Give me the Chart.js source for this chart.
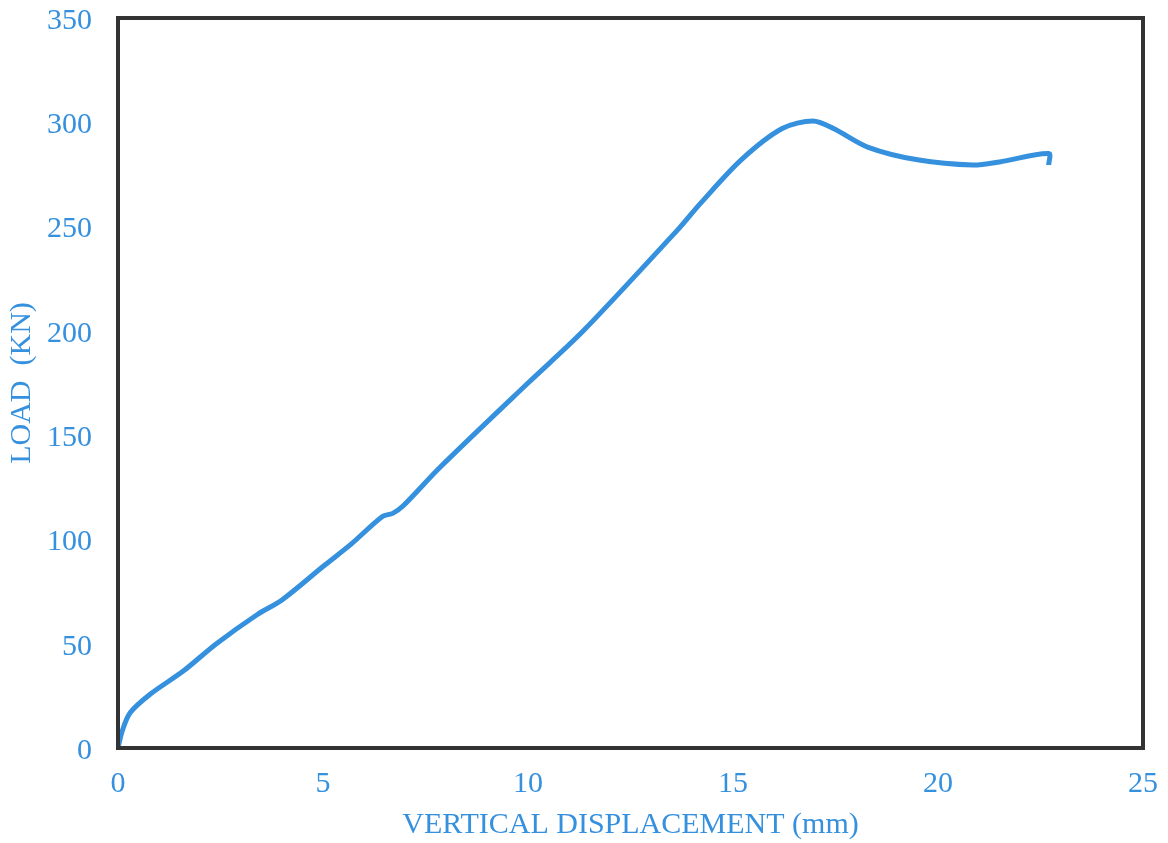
<!DOCTYPE html>
<html>
<head>
<meta charset="utf-8">
<script src="https://cdn.jsdelivr.net/npm/chart.js@4/dist/chart.umd.min.js"></script>
<style>
  html, body { margin: 0; padding: 0; background: #fff; }
  #wrap { width: 1168px; height: 843px; }
</style>
</head>
<body>
<div id="wrap"><canvas id="chart" width="1168" height="843"></canvas></div>
<script>
// values
var displacement = [0, 0.1, 0.3, 0.8, 1.6, 2.4, 3.4, 4.0, 5.0, 5.7, 6.45, 6.7, 6.95, 7.85, 10.0, 11.35, 13.7, 14.2, 15.2, 16.2, 16.95, 17.45, 18.3, 19.5, 20.85, 21.5, 22.7, 22.7];
var load = [0, 8, 17, 26, 37, 50, 64, 71, 87, 98, 111, 112.5, 116, 134.5, 175, 200, 249.5, 261, 282, 297, 300.6, 297, 288, 282, 279.5, 281, 285, 279.5];
var xTicks = [0, 5, 10, 15, 20, 25];
var yTicks = [0, 50, 100, 150, 200, 250, 300, 350];

var blue = '#3590de';
var points = displacement.map(function (x, i) { return { x: x, y: load[i] }; });

// frame around the plot area
var frame = {
    id: 'frame',
    afterDraw: function (chart) {
        var a = chart.chartArea, c = chart.ctx;
        c.save();
        c.strokeStyle = '#333';
        c.lineWidth = 4;
        c.strokeRect(a.left, a.top, a.right - a.left, a.bottom - a.top);
        c.restore();
    }
};

new Chart(document.getElementById('chart'), {
    type: 'scatter',
    data: {
        datasets: [{
            data: points,
            showLine: true,
            borderColor: blue,
            borderWidth: 5,
            pointRadius: 0,
            tension: 0.3,
            fill: false
        }]
    },
    options: {
        responsive: false,
        animation: false,
        layout: { padding: { top: 18, right: 22, left: 0, bottom: 0 } },
        plugins: { legend: { display: false }, tooltip: { enabled: false } },
        scales: {
            x: {
                min: 0, max: 25,
                afterBuildTicks: function (s) { s.ticks = xTicks.map(function (v) { return { value: v }; }); },
                afterFit: function (s) { s.height = 95; },
                grid: { display: false },
                border: { display: false },
                ticks: { color: blue, padding: 10, font: { family: 'Liberation Serif', size: 30 } },
                title: { display: true, text: 'VERTICAL DISPLACEMENT (mm)', color: blue, padding: { top: 6, bottom: 0 },
                    font: { family: 'Liberation Serif', size: 30 } }
            },
            y: {
                min: 0, max: 350,
                afterBuildTicks: function (s) { s.ticks = yTicks.map(function (v) { return { value: v }; }); },
                afterFit: function (s) { s.width = 118; s.paddingTop = 0; s.paddingBottom = 0; },
                grid: { display: false },
                border: { display: false },
                ticks: { color: blue, padding: 18, labelOffset: 3, font: { family: 'Liberation Serif', size: 30 } },
                title: { display: true, text: 'LOAD  (KN)', color: blue, padding: { bottom: 0 },
                    font: { family: 'Liberation Serif', size: 30 } }
            }
        }
    },
    plugins: [frame]
});
</script>
</body>
</html>
